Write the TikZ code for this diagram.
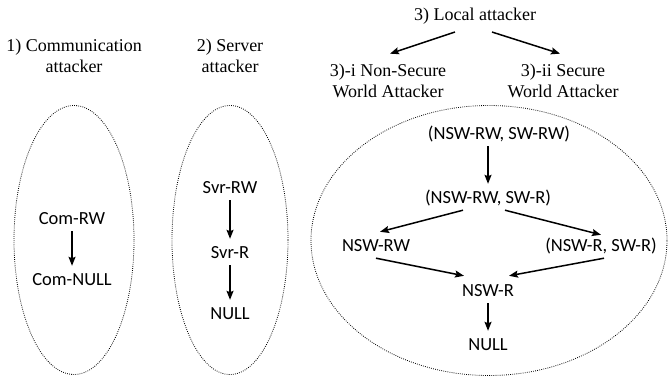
\documentclass[tikz,border=0pt]{standalone}
\usepackage{fontspec}
\setmainfont{Liberation Serif}
\newfontfamily\carl{Carlito}
\usetikzlibrary{arrows.meta}

\tikzset{
  title/.style={font=\fontsize{18}{21.5}\selectfont, align=center, inner sep=0pt},
  lvl/.style={font=\carl\fontsize{18.5}{22}\selectfont, anchor=base,
              text height=12pt, text depth=0pt, inner xsep=2pt, inner ysep=7pt},
  flow/.style={line width=1.5pt, -{Stealth[length=9pt, width=7pt, inset=1.5pt]}},
  region/.style={line width=0.8pt, dash pattern=on 0.8pt off 1.3pt}
}

\begin{document}
\begin{tikzpicture}[x=1pt, y=-1pt]
\useasboundingbox (0,0) rectangle (668,377);

% attacker headings
\node[title] (comt) at (74,56) {1) Communication\\attacker};
\node[title] (svrt) at (230,56) {2) Server\\attacker};
\node[title, anchor=base, inner ysep=7pt] (local) at (475,21) {3) Local attacker};
\node[title, inner sep=10pt] (nsw) at (388,81) {3)-i Non-Secure\\World Attacker};
\node[title, inner sep=10pt] (sw) at (563,81) {3)-ii Secure\\World Attacker};

\draw[flow] ([xshift=-20pt]local.south) -- ([xshift=2pt]nsw.north);
\draw[flow] ([xshift=17pt]local.south) -- ([xshift=-3pt]sw.north);

% dotted regions
\draw[region] (74,240) ellipse [x radius=60pt, y radius=134.5pt];
\draw[region] (230,240) ellipse [x radius=58pt, y radius=134.5pt];
\draw[region] (489,240.5) ellipse [x radius=178pt, y radius=135pt];

% communication attacker levels
\node[lvl] (comrw) at (72,224) {Com-RW};
\node[lvl] (comnull) at (72,285) {Com-NULL};
\draw[flow] (comrw) -- (comnull);

% server attacker levels
\node[lvl] (svrrw) at (230,193) {Svr-RW};
\node[lvl] (svrr) at (230,258) {Svr-R};
\node[lvl] (svrnull) at (230,319) {NULL};
\draw[flow] (svrrw) -- (svrr);
\draw[flow] (svrr) -- (svrnull);

% local attacker levels
\node[lvl] (top) at (499,139) {(NSW-RW, SW-RW)};
\node[lvl] (mid) at (488,203) {(NSW-RW, SW-R)};
\node[lvl] (nswrw) at (376,251) {NSW-RW};
\node[lvl] (nswrsw) at (601,251) {(NSW-R, SW-R)};
\node[lvl] (nswr) at (488,296) {NSW-R};
\node[lvl] (locnull) at (488,350) {NULL};

\draw[flow] (top.south -| mid.north) -- (mid.north);
\draw[flow] ([xshift=-25pt]mid.south) -- ([xshift=4pt]nswrw.north);
\draw[flow] ([xshift=17pt]mid.south) -- ([yshift=-3pt]nswrsw.north);
\draw[flow] (nswrw.south) -- ([xshift=-24pt, yshift=1pt]nswr.north);
\draw[flow] ([xshift=3pt]nswrsw.south) -- ([xshift=21pt, yshift=1pt]nswr.north);
\draw[flow] (nswr.south) -- (locnull.north);
\end{tikzpicture}
\end{document}
